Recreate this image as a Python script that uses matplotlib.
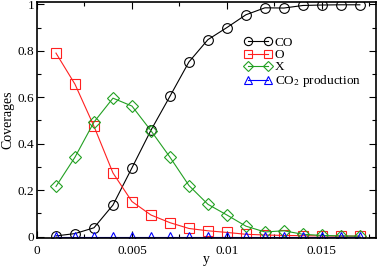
import numpy as np
import matplotlib
matplotlib.use('Agg')
import matplotlib.pyplot as plt
from matplotlib.ticker import MultipleLocator

plt.rcParams['font.family'] = ['Liberation Serif', 'DejaVu Serif']
plt.rcParams['mathtext.fontset'] = 'stix'

y = [0.001, 0.002, 0.003, 0.004, 0.005, 0.006, 0.007, 0.008, 0.009,
     0.010, 0.011, 0.012, 0.013, 0.014, 0.015, 0.016, 0.017]
co = [0.003, 0.013, 0.038, 0.136, 0.296, 0.458, 0.604, 0.752, 0.848,
      0.900, 0.955, 0.985, 0.984, 0.995, 0.997, 0.998, 0.998]
o = [0.790, 0.656, 0.475, 0.274, 0.151, 0.093, 0.060, 0.035, 0.025,
     0.018, 0.010, 0.007, 0.005, 0.004, 0.003, 0.002, 0.002]
x_cov = [0.216, 0.342, 0.493, 0.596, 0.562, 0.456, 0.342, 0.220, 0.139,
         0.093, 0.045, 0.020, 0.025, 0.010, 0.005, 0.003, 0.002]
co2 = [0.0] * 17

fig = plt.figure(figsize=(3.79, 2.66), dpi=100)
ax = fig.add_axes([37 / 379, 28 / 266, 339 / 379, 236 / 266])

ms = 7
ax.plot(y, co, '-', color='black', lw=0.8, marker='o', ms=ms, mfc='none', mew=0.8, label='CO')
ax.plot(y, o, '-', color='#ff2020', lw=0.8, marker='s', ms=ms, mfc='none', mew=0.8, label='O')
ax.plot(y, x_cov, '-', color='#22a022', lw=0.8, marker='D', ms=ms - 1, mfc='none', mew=0.8, label='X')
ax.plot(y, co2, '-', color='#0000ff', lw=0.8, marker='^', ms=ms, mfc='none', mew=0.8,
        label='CO$_2$ production')

ax.set_xlim(0, 0.01785)
ax.set_ylim(-0.006, 1.01)
ax.xaxis.set_minor_locator(MultipleLocator(0.0025))
ax.yaxis.set_minor_locator(MultipleLocator(0.1))
ax.set_xticks([0, 0.005, 0.01, 0.015])
ax.set_xticklabels(['0', '0.005', '0.01', '0.015'])
ax.set_yticks([0, 0.2, 0.4, 0.6, 0.8, 1.0])
ax.set_yticklabels(['0', '0.2', '0.4', '0.6', '0.8', '1'])
ax.tick_params(which='both', direction='in', top=True, right=True, labelsize=9.5)
ax.tick_params(which='major', length=5, width=0.8)
ax.tick_params(which='minor', length=3, width=0.8)
ax.tick_params(axis='x', pad=5)
ax.tick_params(axis='y', pad=2)
for s in ax.spines.values():
    s.set_linewidth(1.2)

ax.set_xlabel('y', fontsize=10, labelpad=-3)
ax.set_ylabel('Coverages', fontsize=10, labelpad=2)

ax.legend(loc='upper left', bbox_to_anchor=(0.595, 0.875), frameon=False, fontsize=9.5,
          numpoints=2, handlelength=2.1, handletextpad=0.25, labelspacing=0.0,
          borderaxespad=0, markerscale=0.85)

fig.savefig('out.png', dpi=100)
